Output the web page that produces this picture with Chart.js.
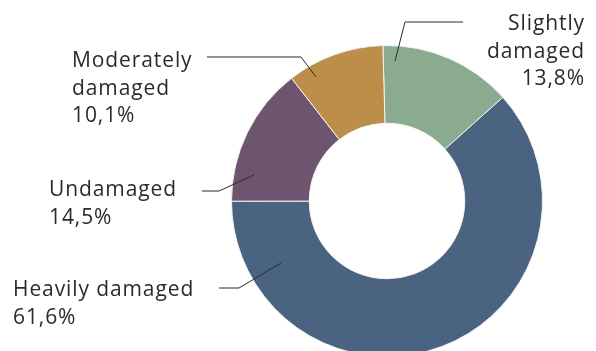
<!DOCTYPE html>
<html>
<head>
<meta charset="utf-8">
<script src="https://cdn.jsdelivr.net/npm/chart.js@4"></script>
<style>
  html, body { margin: 0; padding: 0; background: #fff; overflow: hidden; }
  #wrap { width: 596px; height: 351px; overflow: hidden; }
</style>
</head>
<body>
<div id="wrap"><canvas id="damage" width="596" height="360"></canvas></div>
<script>
(function () {
    "use strict";

    // Building damage shares, clockwise from the top
    var categories = ["Slightly damaged", "Heavily damaged", "Undamaged", "Moderately damaged"];
    var shares = [13.8, 61.6, 14.5, 10.1];
    var colors = ["#8aab8f", "#4a6380", "#6d5570", "#bd8d4a"];

    // Callout layout: text block, alignment, leader line (text end -> elbow -> slice)
    var callouts = [
        { lines: ["Slightly", "damaged"], x: 584, y: 30, align: "right", path: [[463, 22], [405, 22], [395, 61]] },
        { lines: ["Heavily damaged"], x: 13, y: 296, align: "left", path: [[219, 288], [239, 288], [281, 263]] },
        { lines: ["Undamaged"], x: 49, y: 196, align: "left", path: [[202, 191], [219, 191], [254, 175]] },
        { lines: ["Moderately", "damaged"], x: 72, y: 67, align: "left", path: [[207, 57], [301, 57], [316, 77]] }
    ];

    function pct(v) {
        return v.toFixed(1).replace(".", ",") + "%";
    }

    // Labels with leader lines
    var calloutPlugin = {
        id: "callouts",
        afterDraw: function (chart) {
            var ctx = chart.ctx;
            var values = chart.data.datasets[0].data;
            ctx.save();
            ctx.strokeStyle = "#2b2b2b";
            ctx.lineWidth = 1;
            ctx.fillStyle = "#2b2b2b";
            ctx.font = "400 21px 'Open Sans', sans-serif";
            ctx.letterSpacing = "0.9px";
            ctx.textBaseline = "alphabetic";
            callouts.forEach(function (c, i) {
                ctx.beginPath();
                c.path.forEach(function (p, j) {
                    if (j === 0) ctx.moveTo(p[0], p[1]);
                    else ctx.lineTo(p[0], p[1]);
                });
                ctx.stroke();

                ctx.textAlign = c.align;
                var rows = c.lines.concat([pct(values[i])]);
                rows.forEach(function (t, k) {
                    // trailing spacing is added after the last glyph, so nudge right-aligned text
                    var x = c.align === "right" ? c.x + 1 : c.x;
                    ctx.fillText(t, x, c.y + k * 27.5);
                });
            });
            ctx.restore();
        }
    };

    var ctx = document.getElementById("damage").getContext("2d");
    var damageChart = new Chart(ctx, {
        type: "doughnut",
        data: {
            labels: categories,
            datasets: [{
                data: shares,
                backgroundColor: colors,
                borderColor: "#f4f4f0",
                borderWidth: 1
            }]
        },
        options: {
            responsive: false,
            animation: false,
            devicePixelRatio: 1,
            cutout: "50%",
            rotation: -1.5,
            layout: { padding: { left: 231, right: 53, top: 45, bottom: 3 } },
            plugins: {
                legend: { display: false },
                tooltip: { enabled: false }
            }
        },
        plugins: [calloutPlugin]
    });
})();
</script>
</body>
</html>
